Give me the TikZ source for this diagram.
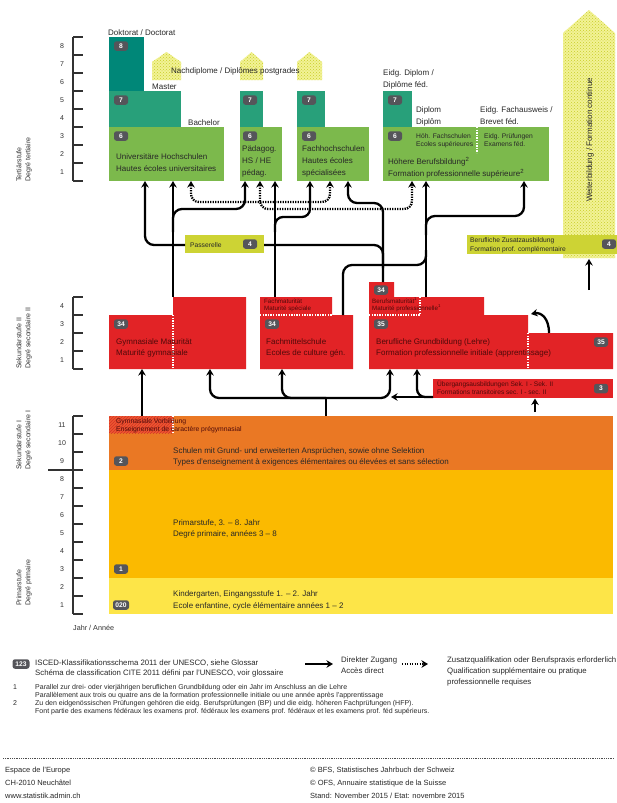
\documentclass[tikz,border=0pt]{standalone}
\usepackage{fontspec}
\setmainfont{Liberation Sans}
\usetikzlibrary{arrows.meta,patterns}
\definecolor{tealD}{RGB}{0,135,120}
\definecolor{tealM}{RGB}{40,160,122}
\definecolor{greenB}{RGB}{124,185,76}
\definecolor{redB}{RGB}{226,35,38}
\definecolor{orangeB}{RGB}{234,120,36}
\definecolor{gymV}{RGB}{236,88,48}
\definecolor{gymVl}{RGB}{214,50,40}
\definecolor{yelO}{RGB}{251,186,0}
\definecolor{yelL}{RGB}{253,229,72}
\definecolor{limeB}{RGB}{205,211,52}
\definecolor{hatchBg}{RGB}{242,242,150}
\definecolor{hatchDot}{RGB}{200,206,40}
\definecolor{badgeG}{RGB}{85,85,90}
\definecolor{txt}{RGB}{40,40,40}
\definecolor{redTxt}{RGB}{80,10,10}
\definecolor{axisG}{RGB}{50,50,50}
\newcommand{\fsz}[1]{\fontsize{#1}{#1}\selectfont}
\begin{document}
\begin{tikzpicture}[x=1pt,y=-1pt,
  >={Stealth[length=6.5pt,width=7.5pt]},
  lbl/.style={inner sep=0pt, anchor=base west, text=txt, font=\fsz{8}},
  sml/.style={lbl, font=\fsz{6.7}},
  lgd/.style={lbl, font=\fsz{7.8}},
  rtx/.style={text=redTxt},
  badge/.style={fill=badgeG, rounded corners=2.5pt, text=white, font=\bfseries\fsz{6.7}, minimum width=14pt, minimum height=9.5pt, inner sep=0pt},
  conn/.style={line width=2.3pt, ->, rounded corners=8pt},
  wire/.style={line width=2.3pt, rounded corners=8pt},
  dconn/.style={line width=2.3pt, <->, rounded corners=8pt, dash pattern=on 1.4pt off 1.1pt},
  axis/.style={line width=1.3pt, draw=axisG},
  num/.style={inner sep=0pt, font=\fsz{7}, text=axisG},
  hatch/.style={fill=hatchBg, postaction={pattern=crosshatch dots, pattern color=hatchDot}},
  wdot/.style={draw=white, line width=1.1pt, dash pattern=on 1.3pt off 1.3pt},
  rot/.style={rotate=90, anchor=north west, align=left, inner sep=0pt, font=\fontsize{7}{9}\selectfont, text=axisG},
]
\fill[white] (0,0) rectangle (617,803);
\useasboundingbox (0,0) rectangle (617,803);

% ---------- year axes
\draw[axis] (73,37) -- (73,181);
\foreach \yy in {37,55,...,181} \draw[axis] (73,\yy) -- (83,\yy);
\foreach \i in {1,...,8} \node[num] (nt\i) at (62,{190-18*\i}) {\i};
\draw[axis] (73,297) -- (73,369);
\foreach \yy in {297,315,...,369} \draw[axis] (73,\yy) -- (83,\yy);
\foreach \i in {1,...,4} \node[num] (ns\i) at (62,{378-18*\i}) {\i};
\draw[axis] (73,416) -- (73,614);
\foreach \yy in {416,434,...,614} \draw[axis] (73,\yy) -- (83,\yy);
\foreach \i in {1,...,11} \node[num] (np\i) at (62,{623-18*\i}) {\i};
\draw[axis] (48,470) -- (83,470);
\node[rot] (lter) at (16,182) {Tertiärstufe\\Degré tertiaire};
\node[rot] (lsek2) at (16,369) {Sekundarstufe II\\Degré secondaire II};
\node[rot] (lsek1) at (16,470) {Sekundarstufe I\\Degré secondaire I};
\node[rot] (lprim) at (16,606) {Primarstufe\\Degré primaire};
\node[lbl, font=\fsz{7.2}, text=axisG] (tJahr) at (73,630) {Jahr / Année};

% ---------- tertiary
\fill[tealD] (109,37) rectangle (144,91);
\fill[tealM] (109,91) rectangle (181,127);
\fill[greenB] (109,127) rectangle (224,181);
\fill[tealM] (240,91) rectangle (263,127);
\fill[greenB] (240,127) rectangle (282,181);
\fill[tealM] (297,91) rectangle (325,127);
\fill[greenB] (297,127) rectangle (369,181);
\fill[tealM] (383,91) rectangle (412,127);
\fill[greenB] (383,127) rectangle (549,181);
\draw[wdot] (477,127) -- (477,153);
\path[hatch] (152,80) -- (152,62) -- (166.5,52) -- (181,62) -- (181,80) -- cycle;
\path[hatch] (240,80) -- (240,62) -- (251.5,52) -- (263,62) -- (263,80) -- cycle;
\path[hatch] (297,80) -- (297,62) -- (309.5,52) -- (322,62) -- (322,80) -- cycle;
\path[hatch] (563,258) -- (563,33) -- (589,10) -- (615,33) -- (615,258) -- cycle;

\node[badge] (b8) at (121,46) {8};
\node[badge] (b7u) at (121,100) {7};
\node[badge] (b6u) at (121,136) {6};
\node[badge] (b7p) at (250,100) {7};
\node[badge] (b6p) at (250,136) {6};
\node[badge] (b7f) at (309,100) {7};
\node[badge] (b6f) at (309,136) {6};
\node[badge] (b7h) at (395,100) {7};
\node[badge] (b6h) at (395,136) {6};

\node[lbl] (tDok) at (108,35) {Doktorat / Doctorat};
\node[lbl] (tNach) at (171,73) {Nachdiplome / Diplômes postgrades};
\node[lbl] (tMas) at (152,89) {Master};
\node[lbl] (tBac) at (188,125) {Bachelor};
\node[lbl] (tUni1) at (116,159) {Universitäre Hochschulen};
\node[lbl] (tUni2) at (116,171) {Hautes écoles universitaires};
\node[lbl] (tPH1) at (242,151) {Pädagog.};
\node[lbl] (tPH2) at (242,163) {HS / HE};
\node[lbl] (tPH3) at (242,175) {pédag.};
\node[lbl] (tFH1) at (302,151) {Fachhochschulen};
\node[lbl] (tFH2) at (302,163) {Hautes écoles};
\node[lbl] (tFH3) at (302,175) {spécialisées};
\node[lbl] (tED1) at (383,75) {Eidg. Diplom /};
\node[lbl] (tED2) at (383,87) {Diplôme féd.};
\node[lbl] (tDi1) at (416,112) {Diplom};
\node[lbl] (tDi2) at (416,124) {Diplôm};
\node[lbl] (tFa1) at (480,112) {Eidg. Fachausweis /};
\node[lbl] (tFa2) at (480,124) {Brevet féd.};
\node[sml] (tHF1) at (416,138) {Höh. Fachschulen};
\node[sml] (tHF2) at (416,146.5) {Ecoles supérieures};
\node[sml] (tEP1) at (484,138) {Eidg. Prüfungen};
\node[sml] (tEP2) at (484,146.5) {Examens féd.};
\node[lbl] (tHB1) at (388,164) {Höhere Berufsbildung\textsuperscript{2}};
\node[lbl] (tHB2) at (388,176) {Formation professionnelle supérieure\textsuperscript{2}};
\node[rotate=90, inner sep=0pt, font=\fsz{8}, text=txt] (tWB) at (590,140) {Weiterbildung / Formation continue};

% ---------- passerelle / zusatz
\fill[limeB] (185,235) rectangle (264,253);
\node[sml] (tPas) at (190,247) {Passerelle};
\node[badge] (b4a) at (250,244) {4};
\fill[limeB] (467,235) rectangle (617,254);
\node[sml] (tZu1) at (470,242.5) {Berufliche Zusatzausbildung};
\node[sml] (tZu2) at (470,251.5) {Formation prof. complémentaire};
\node[badge] (b4b) at (609,244) {4};

% ---------- secondary II
\fill[redB] (109,315) -- (173,315) -- (173,297) -- (246,297) -- (246,369) -- (109,369) -- cycle;
\draw[wdot] (173,315) -- (173,369);
\fill[redB] (260,297) -- (332,297) -- (332,315) -- (353,315) -- (353,369) -- (260,369) -- cycle;
\draw[wdot] (260,315) -- (332,315);
\fill[redB] (369,282) -- (394,282) -- (394,297) -- (484,297) -- (484,315) -- (528,315) -- (528,333) -- (613,333) -- (613,369) -- (369,369) -- cycle;
\draw[wdot] (369,315) -- (420,315) -- (420,297);
\draw[wdot] (528,333) -- (528,369);
\fill[redB] (433,379) rectangle (613,398);

\node[badge] (b34g) at (121,324) {34};
\node[badge] (b34f) at (272,324) {34};
\node[badge] (b34b) at (381,290) {34};
\node[badge] (b35) at (381,324) {35};
\node[badge] (b35e) at (601,342) {35};
\node[badge] (b3) at (601,388.5) {3};

\node[lbl, rtx] (tGy1) at (116,344) {Gymnasiale Maturität};
\node[lbl, rtx] (tGy2) at (116,355) {Maturité gymnasiale};
\node[sml, rtx, font=\fsz{6.2}] (tFM1) at (264,303) {Fachmaturität};
\node[sml, rtx, font=\fsz{6.2}] (tFM2) at (264,310.5) {Maturité spéciale};
\node[lbl, rtx] (tFMS1) at (266,344) {Fachmittelschule};
\node[lbl, rtx] (tFMS2) at (266,355) {Ecoles de culture gén.};
\node[sml, rtx, font=\fsz{6.2}] (tBM1) at (372,303) {Berufsmaturität\textsuperscript{1}};
\node[sml, rtx, font=\fsz{6.2}] (tBM2) at (372,310.5) {Maturité professionnelle\textsuperscript{1}};
\node[lbl, rtx] (tGB1) at (376,344) {Berufliche Grundbildung (Lehre)};
\node[lbl, rtx] (tGB2) at (376,355) {Formation professionnelle initiale (apprentissage)};
\node[sml, rtx, font=\fsz{6.6}] (tUe1) at (437,386.5) {Übergangsausbildungen Sek. I - Sek. II};
\node[sml, rtx, font=\fsz{6.6}] (tUe2) at (437,394.8) {Formations transitoires sec. I - sec. II};

% ---------- secondary I and primary
\fill[orangeB] (109,416) rectangle (613,470);
\path[fill=gymV, postaction={pattern=north east lines, pattern color=gymVl}] (109,416) rectangle (173,433);
\draw[wdot] (173,416) -- (173,433);
\fill[yelO] (109,470) rectangle (613,578);
\fill[yelL] (109,578) rectangle (613,614);
\node[badge] (b2) at (121,461) {2};
\node[badge] (b1) at (121,569) {1};
\node[badge, minimum width=16pt] (b020) at (121,605) {020};
\node[sml, rtx, font=\fsz{6.8}] (tGV1) at (116,423) {Gymnasiale Vorbildung};
\node[sml, rtx, font=\fsz{6.8}] (tGV2) at (116,431.5) {Enseignement de caractère prégymnasial};
\node[lbl] (tS1) at (173,453) {Schulen mit Grund- und erweiterten Ansprüchen, sowie ohne Selektion};
\node[lbl] (tS2) at (173,464) {Types d'enseignement à exigences élémentaires ou élevées et sans sélection};
\node[lbl] (tP1) at (173,525) {Primarstufe, 3. – 8. Jahr};
\node[lbl] (tP2) at (173,536) {Degré primaire, années 3 – 8};
\node[lbl] (tK1) at (173,596) {Kindergarten, Eingangsstufe 1. – 2. Jahr};
\node[lbl] (tK2) at (173,608) {Ecole enfantine, cycle élémentaire années 1 – 2};

% ---------- connectors Sek I -> Sek II
\coordinate (gvTop) at (142,416);
\coordinate (gymBot) at (142,369);
\draw[conn] (gvTop) -- (gymBot);
\coordinate (trunk) at (326,416);
\coordinate (hub) at (326,398);
\draw[wire] (trunk) -- (hub);
\draw[line width=2.3pt, <->, rounded corners=9pt] (210,369) -- (210,398) -- (390,398) -- (390,369);
\draw[conn, rounded corners=9pt] (hub) -| (282,369);
\coordinate (ueL) at (433,397);
\draw[conn] (ueL) -- (391,397);
\draw[conn, rounded corners=8pt] (ueL) -| (417,369);
\coordinate (ueIn) at (535,412);
\draw[conn] (ueIn) -- (535,398.5);

% ---------- connectors Sek II -> tertiary
\draw[conn] (173,297) -- (173,181);
\draw[conn, rounded corners=9pt] (173,232) -- (173,209) -- (245,209) -- (245,181);
\draw[conn, rounded corners=9pt] (185,245) -- (145,245) -- (145,181);
\draw[wire, rounded corners=9pt] (383,268) -- (383,245) -- (264,245);
\draw[conn, rounded corners=9pt] (383,282) -- (383,203) -- (348,203) -- (348,181);
\draw[conn] (275,297) -- (275,181);
\draw[conn, rounded corners=8pt] (275,232) -- (275,217) -- (310,217) -- (310,181);
\draw[wire, rounded corners=9pt] (343,315) -- (343,265) -- (426,265) -- (426,250);
\draw[conn] (426,297) -- (426,181);
\draw[conn, rounded corners=9pt] (426,235) -- (426,216) -- (524,216) -- (524,181);
\draw[dconn] (191,181) -- (191,202) -- (330,202) -- (330,181);
\draw[dconn] (260,181) -- (260,209) -- (412,209) -- (412,181);
\draw[line width=2.3pt, ->] (549,333) .. controls (549,318) and (541,312) .. (531,314);
\draw[conn] (589,290) -- (589,259);

% ---------- legend
\node[badge, minimum width=17pt] (b123) at (21,664) {123};
\node[lgd] (lg1) at (35,665) {ISCED-Klassifikationsschema 2011 der UNESCO, siehe Glossar};
\node[lgd] (lg2) at (35,675.5) {Schéma de classification CITE 2011 défini par l'UNESCO, voir glossaire};
\coordinate (la1) at (305,664); \coordinate (la2) at (333,664);
\draw[conn] (la1) -- (la2);
\node[lgd] (lg3) at (341,662) {Direkter Zugang};
\node[lgd] (lg4) at (341,673) {Accès direct};
\coordinate (lb1) at (402,664); \coordinate (lb2) at (428,664);
\draw[line width=2.3pt, ->, dash pattern=on 1.4pt off 1.1pt] (lb1) -- (lb2);
\node[lgd] (lg5) at (447,662) {Zusatzqualifikation oder Berufspraxis erforderlich};
\node[lgd] (lg6) at (447,673) {Qualification supplémentaire ou pratique};
\node[lgd] (lg7) at (447,684) {professionnelle requises};
\node[sml, font=\fsz{7}] (fn1) at (13,689) {1};
\node[sml, font=\fsz{7}] (fn1a) at (35,689) {Parallel zur drei- oder vierjährigen beruflichen Grundbildung oder ein Jahr im Anschluss an die Lehre};
\node[sml, font=\fsz{7}] (fn1b) at (35,697) {Parallèlement aux trois ou quatre ans de la formation professionnelle initiale ou une année après l'apprentissage};
\node[sml, font=\fsz{7}] (fn2) at (13,705) {2};
\node[sml, font=\fsz{7}] (fn2a) at (35,705) {Zu den eidgenössischen Prüfungen gehören die eidg. Berufsprüfungen (BP) und die eidg. höheren Fachprüfungen (HFP).};
\node[sml, font=\fsz{7}] (fn2b) at (35,713) {Font partie des examens fédéraux les examens prof. fédéraux les examens prof. fédéraux et les examens prof. féd supérieurs.};

% ---------- footer
\draw[line width=0.9pt, dash pattern=on 0.9pt off 0.9pt, draw=black!70] (3,758) -- (614,758);
\node[lbl, font=\fsz{7.5}] (ft1) at (5,772) {Espace de l'Europe};
\node[lbl, font=\fsz{7.5}] (ft2) at (5,785) {CH-2010 Neuchâtel};
\node[lbl, font=\fsz{7.5}] (ft3) at (5,798) {www.statistik.admin.ch};
\node[lbl, font=\fsz{7.5}] (ft4) at (310,772) {© BFS, Statistisches Jahrbuch der Schweiz};
\node[lbl, font=\fsz{7.5}] (ft5) at (310,785) {© OFS, Annuaire statistique de la Suisse};
\node[lbl, font=\fsz{7.5}] (ft6) at (310,798) {Stand: November 2015 / Etat: novembre 2015};
\end{tikzpicture}
\end{document}
